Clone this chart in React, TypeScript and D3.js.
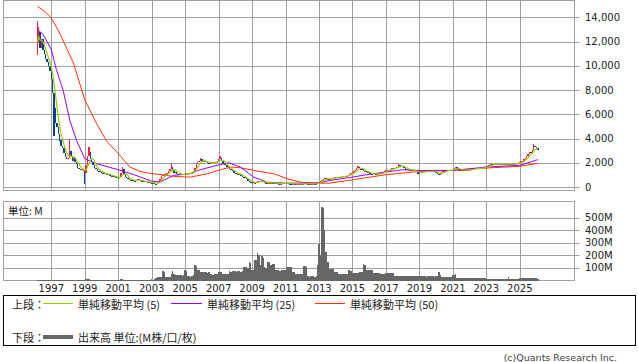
import { scaleLinear, line } from "d3";

// monthly closes, Mar 1996 .. Feb 2026
const close1996 = [12000, 12800, 11500, 12200, 11300, 11000, 10600, 10300, 10000, 9600];
const close1997 = [8900, 7800, 6500, 5300, 5000, 4400, 3900, 3400, 3200, 2800, 2500, 2300];
const close1998 = [2400, 3000, 2600, 2200, 2400, 2100, 1900, 1600, 1500, 1400, 1500, 1300];
const close1999 = [1200, 1800, 2600, 2900, 2300, 2100, 1800, 1600, 1500, 1350, 1300, 1250];
const close2000 = [1150, 1100, 1200, 1050, 1000, 1050, 950, 900, 950, 850, 800, 780];
const close2001 = [750, 800, 1200, 1500, 1100, 850, 750, 650, 600, 620, 580, 550];
const close2002 = [520, 600, 650, 560, 520, 480, 450, 470, 420, 400, 420, 380];
const close2003 = [360, 340, 300, 280, 350, 450, 700, 950, 1000, 1100, 1000, 1150];
const close2004 = [1300, 1500, 1700, 1400, 1200, 1250, 1100, 1050, 1100, 1000, 1050, 1100];
const close2005 = [1100, 1150, 1200, 1150, 1150, 1200, 1350, 1600, 1900, 2050, 2200, 2300];
const close2006 = [2150, 2050, 2200, 2100, 2000, 1950, 2000, 2050, 2000, 2100, 2050, 2150];
const close2007 = [2300, 2400, 2200, 1950, 1900, 1800, 1700, 1550, 1500, 1400, 1300, 1200];
const close2008 = [1150, 1100, 1000, 1050, 950, 850, 800, 750, 650, 500, 450, 420];
const close2009 = [400, 350, 380, 450, 500, 480, 450, 470, 420, 380, 350, 360];
const close2010 = [380, 350, 370, 360, 320, 310, 300, 280, 290, 300, 320, 330];
const close2011 = [340, 350, 300, 290, 280, 290, 300, 270, 260, 270, 250, 260];
const close2012 = [280, 300, 320, 300, 270, 280, 260, 270, 280, 270, 300, 380];
const close2013 = [450, 500, 600, 700, 750, 650, 700, 650, 700, 720, 750, 800];
const close2014 = [850, 820, 800, 850, 870, 900, 920, 900, 950, 1000, 1100, 1150];
const close2015 = [1200, 1300, 1450, 1550, 1700, 1600, 1450, 1500, 1300, 1350, 1250, 1200];
const close2016 = [1150, 1050, 1100, 1150, 1100, 1050, 1100, 1150, 1100, 1150, 1250, 1350];
const close2017 = [1400, 1450, 1400, 1450, 1550, 1600, 1550, 1600, 1700, 1800, 1750, 1700];
const close2018 = [1750, 1600, 1450, 1500, 1400, 1450, 1400, 1350, 1400, 1300, 1250, 1100];
const close2019 = [1200, 1250, 1300, 1350, 1250, 1300, 1300, 1250, 1300, 1350, 1300, 1250];
const close2020 = [1200, 1100, 1000, 1150, 1250, 1300, 1350, 1400, 1350, 1400, 1450, 1400];
const close2021 = [1450, 1600, 1650, 1500, 1450, 1400, 1400, 1380, 1450, 1420, 1380, 1400];
const close2022 = [1450, 1500, 1550, 1500, 1550, 1500, 1550, 1600, 1550, 1550, 1600, 1600];
const close2023 = [1650, 1750, 1850, 1900, 1850, 1900, 1850, 1900, 1950, 1850, 1900, 1850];
const close2024 = [1900, 1950, 1900, 1850, 1900, 1950, 1900, 1850, 1900, 1950, 2000, 2000];
const close2025 = [2050, 2150, 2200, 2300, 2400, 2550, 2750, 2900, 2800, 3100, 3400, 3300];
const close2026 = [3200, 3050];
const firstOpen = 11000;

// the longer wicks that stand out on the chart: [year, month, high, low]
const wicks: [number, number, number, number][] = [
	[1996, 3, 13700, 10900],
	[1996, 4, 13200, 12000],
	[1997, 3, 7800, 4200],
	[1997, 7, 4000, 3800],
	[1998, 2, 4000, 2400],
	[1999, 1, 1300, 300],
	[1999, 4, 3300, 2600],
	[2001, 4, 1650, 1200],
	[2004, 3, 2000, 1500],
	[2005, 12, 2400, 2200],
	[2007, 2, 2550, 2300],
	[2015, 5, 1750, 1550],
	[2017, 10, 1950, 1700],
	[2019, 1, 1200, 1050],
	[2025, 11, 3550, 3100],
];

// monthly volume, millions
const vol1996 = [4, 4, 3, 3, 3, 3, 3, 3, 3, 3];
const vol1997 = [3, 3, 4, 4, 3, 3, 3, 3, 3, 3, 3, 3];
const vol1998 = [3, 3, 3, 3, 3, 3, 3, 3, 3, 3, 3, 3];
const vol1999 = [4, 8, 10, 9, 5, 4, 3, 3, 3, 3, 3, 3];
const vol2000 = [3, 3, 3, 3, 3, 3, 3, 3, 3, 3, 3, 3];
const vol2001 = [3, 4, 8, 9, 5, 3, 3, 3, 3, 3, 3, 3];
const vol2002 = [3, 3, 3, 3, 3, 3, 3, 3, 3, 3, 3, 3];
const vol2003 = [8, 6, 10, 22, 25, 28, 27, 30, 72, 70, 28, 27];
const vol2004 = [27, 30, 50, 72, 55, 45, 40, 40, 40, 42, 38, 45];
const vol2005 = [80, 75, 32, 32, 30, 32, 40, 120, 115, 80, 80, 70];
const vol2006 = [67, 70, 65, 67, 62, 67, 48, 50, 45, 48, 52, 48];
const vol2007 = [67, 70, 65, 53, 55, 50, 53, 55, 72, 70, 75, 72];
const vol2008 = [72, 70, 74, 72, 70, 72, 107, 105, 110, 100, 147, 140];
const vol2009 = [80, 85, 160, 165, 219, 200, 120, 192, 180, 107, 100, 147];
const vol2010 = [147, 120, 120, 133, 130, 80, 80, 82, 78, 80, 80, 82];
const vol2011 = [80, 107, 107, 105, 107, 67, 67, 53, 55, 53, 50, 53];
const vol2012 = [53, 112, 112, 110, 32, 30, 32, 34, 32, 30, 32, 120];
const vol2013 = [293, 200, 580, 575, 400, 227, 147, 147, 93, 93, 93, 67];
const vol2014 = [67, 67, 53, 53, 55, 50, 53, 55, 53, 80, 80, 78];
const vol2015 = [59, 60, 58, 59, 60, 67, 67, 67, 128, 120, 80, 80];
const vol2016 = [80, 80, 80, 59, 59, 59, 59, 59, 53, 53, 53, 53];
const vol2017 = [59, 59, 57, 59, 59, 57, 35, 36, 35, 35, 36, 35];
const vol2018 = [35, 36, 35, 35, 34, 35, 35, 34, 35, 35, 34, 35];
const vol2019 = [32, 32, 33, 32, 32, 31, 32, 32, 33, 32, 32, 31];
const vol2020 = [32, 32, 67, 40, 27, 27, 27, 27, 27, 27, 27, 27];
const vol2021 = [40, 40, 48, 19, 19, 19, 19, 19, 19, 19, 19, 19];
const vol2022 = [19, 19, 19, 19, 19, 19, 19, 19, 19, 19, 19, 19];
const vol2023 = [15, 14, 13, 13, 13, 13, 13, 13, 13, 13, 13, 13];
const vol2024 = [13, 13, 13, 13, 27, 13, 13, 13, 13, 13, 13, 13];
const vol2025 = [16, 16, 16, 16, 16, 16, 16, 16, 16, 16, 16, 16];
const vol2026 = [16, 15];

// longer averages (they reach back before the first candle)
const ma25Dates = [1996.17, 1996.5, 1997.0, 1997.3, 1997.7, 1998.1, 1998.5, 1999.0, 1999.7, 2001.0, 2002.0, 2003.0, 2003.5, 2004.3, 2005.3, 2005.9, 2006.9, 2007.6, 2008.3, 2009.1, 2009.9, 2011.0, 2013.0, 2013.6, 2015.0, 2015.7, 2017.0, 2018.0, 2019.0, 2021.0, 2023.0, 2025.0, 2026.08];
const ma25Values = [13000, 12600, 11350, 9700, 8030, 5540, 3880, 2350, 1940, 1440, 1000, 500, 430, 970, 1110, 1440, 1800, 2020, 1660, 830, 410, 330, 350, 550, 830, 1000, 1250, 1440, 1380, 1380, 1660, 1800, 2270];
const ma50Dates = [1996.17, 1996.6, 1997.0, 1997.5, 1998.0, 1998.32, 1999.0, 1999.7, 2000.3, 2001.0, 2001.7, 2002.3, 2003.0, 2003.5, 2004.3, 2005.3, 2006.3, 2007.3, 2007.8, 2008.3, 2009.3, 2010.3, 2011.1, 2011.9, 2013.0, 2013.6, 2015.0, 2017.0, 2019.0, 2021.0, 2023.0, 2025.0, 2026.08];
const ma50Values = [14900, 14500, 13950, 12700, 11200, 10240, 7200, 5260, 3800, 2770, 1660, 1300, 1120, 1050, 890, 830, 1100, 1520, 1660, 1600, 1330, 1110, 700, 410, 330, 330, 610, 1030, 1300, 1380, 1580, 1720, 1970];

const priceTicks = [0, 2000, 4000, 6000, 8000, 10000, 12000, 14000];
const volumeTicks = [100, 200, 300, 400, 500];
const yearTicks = [1997, 1999, 2001, 2003, 2005, 2007, 2009, 2011, 2013, 2015, 2017, 2019, 2021, 2023, 2025];

const closes = [
	close1996, close1997, close1998, close1999, close2000, close2001, close2002, close2003,
	close2004, close2005, close2006, close2007, close2008, close2009, close2010, close2011,
	close2012, close2013, close2014, close2015, close2016, close2017, close2018, close2019,
	close2020, close2021, close2022, close2023, close2024, close2025, close2026,
].flat();
const volumes = [
	vol1996, vol1997, vol1998, vol1999, vol2000, vol2001, vol2002, vol2003,
	vol2004, vol2005, vol2006, vol2007, vol2008, vol2009, vol2010, vol2011,
	vol2012, vol2013, vol2014, vol2015, vol2016, vol2017, vol2018, vol2019,
	vol2020, vol2021, vol2022, vol2023, vol2024, vol2025, vol2026,
].flat();

const UP = "#ff1a3c";
const DOWN = "#0a3c9c";
const GRID = "#a0a0a0";
const NUM_FONT = "'DejaVu Sans', sans-serif";
const JP_FONT = "'Noto Sans CJK JP', sans-serif";

const monthTime = (i: number) => 1996 + 2 / 12 + i / 12;
const monthIndex = (year: number, month: number) => (year - 1996) * 12 + month - 3;

export default function App() {
	const left = 3.5;
	const right = 574.5;
	const x = scaleLinear().domain([1997, 2025]).range([51.3, 519.8]);
	const y = scaleLinear().domain([0, 14000]).range([187.2, 17.3]);
	const yv = scaleLinear().domain([0, 500]).range([280.5, 217.5]);
	const step = x(1997 + 1 / 12) - x(1997);
	const crisp = (v: number) => Math.round(v) + 0.5;

	const ma5 = closes.map((_, i) => {
		const win = closes.slice(Math.max(0, i - 4), i + 1);
		return win.reduce((a, b) => a + b, 0) / win.length;
	});

	const priceLine = line<[number, number]>()
		.x((d) => x(d[0]))
		.y((d) => y(d[1]));

	const ma5Path = priceLine(ma5.map((v, i) => [monthTime(i), v])) ?? "";
	const ma25Path = priceLine(ma25Dates.map((t, i) => [t, ma25Values[i]])) ?? "";
	const ma50Path = priceLine(ma50Dates.map((t, i) => [t, ma50Values[i]])) ?? "";

	const openAt = (i: number) => (i === 0 ? firstOpen : closes[i - 1]);

	return (
		<svg
			width={638}
			height={362}
			style={{ position: "absolute", left: 0, top: 0, background: "#fff" }}
		>
			{/* upper panel */}
			<rect x={left} y={0.5} width={right - left} height={190} fill="#fff" stroke={GRID} />
			{priceTicks.map((v) => (
				<line key={v} x1={left} x2={right} y1={crisp(y(v))} y2={crisp(y(v))} stroke={GRID} />
			))}
			{yearTicks.map((t) => (
				<line key={t} x1={crisp(x(t))} x2={crisp(x(t))} y1={0.5} y2={190.5} stroke={GRID} />
			))}
			{priceTicks.map((v) => (
				<g key={v}>
					<line x1={right} x2={right + 5} y1={crisp(y(v))} y2={crisp(y(v))} stroke={GRID} />
					<text x={585} y={y(v)} dominantBaseline="central" fontFamily={NUM_FONT} fontSize={10} fill="#222">
						{v.toLocaleString("en-US")}
					</text>
				</g>
			))}

			{/* candles */}
			<g shapeRendering="crispEdges">
				{wicks.map(([yr, m, hi, lo]) => {
					const i = monthIndex(yr, m);
					const up = closes[i] >= openAt(i);
					return (
						<line
							key={`${yr}-${m}`}
							x1={x(monthTime(i))}
							x2={x(monthTime(i))}
							y1={y(hi)}
							y2={y(lo)}
							stroke={up ? UP : DOWN}
							strokeWidth={1.2}
						/>
					);
				})}
				{closes.map((c, i) => {
					const o = openAt(i);
					const top = y(Math.max(o, c));
					const h = Math.max(1, y(Math.min(o, c)) - top);
					return (
						<rect
							key={i}
							x={x(monthTime(i)) - step / 2}
							y={top}
							width={step}
							height={h}
							fill={c >= o ? UP : DOWN}
						/>
					);
				})}
			</g>
			<path d={ma50Path} fill="none" stroke="#ff3300" strokeWidth={1} />
			<path d={ma25Path} fill="none" stroke="#9900ff" strokeWidth={1} />
			<path d={ma5Path} fill="none" stroke="#99cc00" strokeWidth={1.2} />

			{/* volume panel */}
			<rect x={left} y={201.5} width={right - left} height={79} fill="#fff" stroke={GRID} />
			{volumeTicks.map((v) => (
				<line key={v} x1={left} x2={right} y1={crisp(yv(v))} y2={crisp(yv(v))} stroke={GRID} />
			))}
			{yearTicks.map((t) => (
				<line key={t} x1={crisp(x(t))} x2={crisp(x(t))} y1={201.5} y2={280.5} stroke={GRID} />
			))}
			<g shapeRendering="crispEdges">
				{volumes.map((v, i) => (
					<rect
						key={i}
						x={x(monthTime(i)) - step / 2}
						y={yv(v)}
						width={step}
						height={yv(0) - yv(v)}
						fill="#666"
					/>
				))}
			</g>
			{volumeTicks.map((v) => (
				<g key={v}>
					<line x1={right} x2={right + 5} y1={crisp(yv(v))} y2={crisp(yv(v))} stroke={GRID} />
					<text x={585} y={yv(v)} dominantBaseline="central" fontFamily={NUM_FONT} fontSize={10} fill="#222">
						{v}M
					</text>
				</g>
			))}
			<text x={8} y={210} dominantBaseline="central" fontFamily={JP_FONT} fontSize={10.5} fill="#222">
				単位: M
			</text>
			{yearTicks.map((t) => (
				<text key={t} x={x(t)} y={288.5} textAnchor="middle" dominantBaseline="central" fontFamily={NUM_FONT} fontSize={10} fill="#222">
					{t}
				</text>
			))}

			{/* legend */}
			<rect x={3.5} y={295.5} width={632} height={50} fill="none" stroke="#000" />
			<g fontFamily={JP_FONT} fontSize={11} fill="#222">
				<text x={12} y={303.5} dominantBaseline="central">上段：</text>
				<line x1={43} x2={73} y1={303.5} y2={303.5} stroke="#99cc00" />
				<text x={78} y={303.5} dominantBaseline="central">単純移動平均 (5)</text>
				<line x1={171} x2={202} y1={303.5} y2={303.5} stroke="#9900ff" />
				<text x={207} y={303.5} dominantBaseline="central">単純移動平均 (25)</text>
				<line x1={315} x2={345} y1={303.5} y2={303.5} stroke="#ff3300" />
				<text x={350} y={303.5} dominantBaseline="central">単純移動平均 (50)</text>
				<text x={12} y={337} dominantBaseline="central">下段：</text>
				<line x1={43} x2={73} y1={337} y2={337} stroke="#666" strokeWidth={4} />
				<text x={78} y={337} dominantBaseline="central">出来高 単位:(M株/口/枚)</text>
			</g>
			<text x={617} y={357} textAnchor="end" dominantBaseline="central" fontFamily={NUM_FONT} fontSize={9.5} fill="#444">
				(c)Quants Research Inc.
			</text>
		</svg>
	);
}
